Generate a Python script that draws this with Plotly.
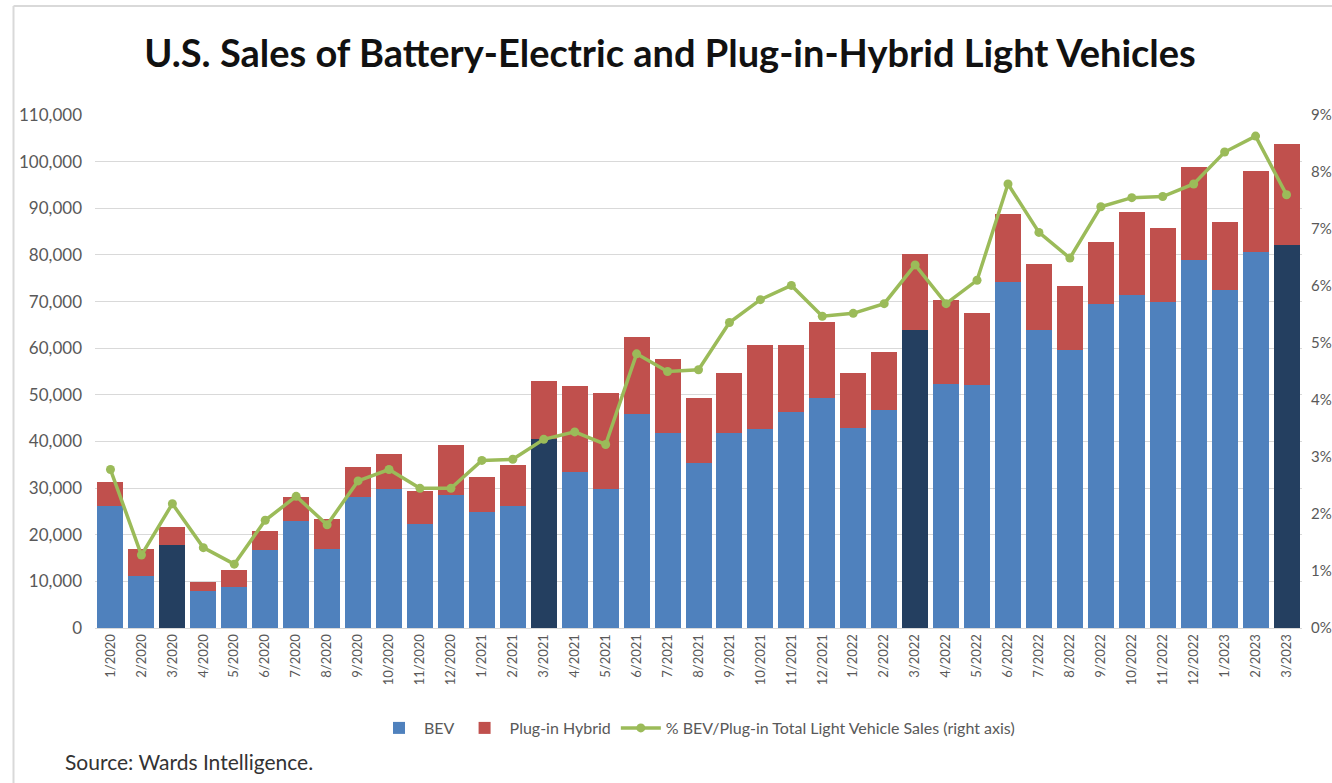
import plotly.graph_objects as go

months = ["1/2020", "2/2020", "3/2020", "4/2020", "5/2020", "6/2020", "7/2020", "8/2020",
          "9/2020", "10/2020", "11/2020", "12/2020", "1/2021", "2/2021", "3/2021", "4/2021",
          "5/2021", "6/2021", "7/2021", "8/2021", "9/2021", "10/2021", "11/2021", "12/2021",
          "1/2022", "2/2022", "3/2022", "4/2022", "5/2022", "6/2022", "7/2022", "8/2022",
          "9/2022", "10/2022", "11/2022", "12/2022", "1/2023", "2/2023", "3/2023"]

bev = [26100, 11200, 17900, 7950, 8700, 16700, 22850, 17000, 28000, 29700, 22250, 28450,
       24850, 26150, 40600, 33450, 29850, 45850, 41800, 35400, 41800, 42600, 46300, 49400,
       42900, 46700, 64000, 52300, 52200, 74100, 63900, 59700, 69500, 71500, 69800, 78900,
       72400, 80700, 82200]

phev = [5200, 5800, 3700, 1950, 3800, 4200, 5250, 6400, 6600, 7700, 7150, 10750,
        7450, 8750, 12300, 18500, 20550, 16500, 15800, 14000, 12800, 18150, 14450, 16250,
        11700, 12450, 16300, 17950, 15300, 14750, 14200, 13700, 13300, 17600, 16000, 20000,
        14700, 17200, 21600]

pct = [2.78, 1.28, 2.18, 1.41, 1.12, 1.89, 2.31, 1.81, 2.58, 2.78, 2.45, 2.45,
       2.94, 2.96, 3.31, 3.44, 3.22, 4.81, 4.50, 4.53, 5.36, 5.76, 6.01, 5.47,
       5.52, 5.69, 6.37, 5.69, 6.10, 7.79, 6.94, 6.49, 7.39, 7.55, 7.57, 7.79,
       8.35, 8.63, 7.60]

highlight_months = ["3/2020", "3/2021", "3/2022", "3/2023"]

BLUE = "#4F81BD"
NAVY = "#243F60"
RED = "#C0504D"
GREEN = "#9BBB59"
TXT = "#595959"

bev_colors = [NAVY if m in highlight_months else BLUE for m in months]
pct_frac = [p / 100 for p in pct]

fig = go.Figure()
fig.add_trace(go.Bar(x=months, y=bev, name="BEV", marker=dict(color=bev_colors, line=dict(width=0))))
fig.add_trace(go.Bar(x=months, y=phev, name="Plug-in Hybrid", marker=dict(color=RED, line=dict(width=0))))
fig.add_trace(go.Scatter(x=months, y=pct_frac, name="% BEV/Plug-in Total Light Vehicle Sales (right axis)",
                         yaxis="y2", mode="lines+markers",
                         line=dict(color=GREEN, width=3.5),
                         marker=dict(color=GREEN, size=9)))

L, R, T, B = 95, 30, 115, 155
W, H = 1332, 783
pw, ph = W - L - R, H - T - B

def px(x):
    return (x - L) / pw

def py(y):
    return (H - B - y) / ph

FONT = "Lato, 'Open Sans', sans-serif"

fig.update_layout(
    width=W, height=H,
    margin=dict(l=L, r=R, t=T, b=B, autoexpand=False),
    paper_bgcolor="white", plot_bgcolor="white",
    barmode="stack", bargap=0.16,
    font=dict(family=FONT, color=TXT, size=14),
    title=dict(text="<b>U.S. Sales of Battery-Electric and Plug-in-Hybrid Light Vehicles</b>",
               x=670 / W, xref="container", xanchor="center",
               y=1 - 54 / H, yref="container", yanchor="middle",
               font=dict(family=FONT, size=38, color="#111111")),
    xaxis=dict(type="category", range=[-0.5, len(months) - 0.5], tickangle=-90, showgrid=False,
               showline=True, automargin=False,
               linecolor="#D9D9D9", linewidth=1, ticks="", tickfont=dict(size=13, color=TXT)),
    yaxis=dict(range=[0, 110000], dtick=10000, tickformat=",d", showgrid=True, automargin=False,
               gridcolor="#D9D9D9", gridwidth=1, zeroline=False, showline=False,
               ticklabelstandoff=12, tickfont=dict(size=17, color=TXT)),
    yaxis2=dict(range=[0, 0.09], dtick=0.01, tickformat=".0%", overlaying="y", side="right",
                showgrid=False, zeroline=False, showline=False, ticklabelstandoff=8, automargin=False,
                tickfont=dict(size=15, color=TXT)),
    legend=dict(orientation="h", x=px(697), xanchor="center", y=py(728), yanchor="middle",
                font=dict(size=16, color=TXT), itemwidth=40, traceorder="normal"),
    showlegend=True,
    annotations=[dict(text="Source: Wards Intelligence.", xref="paper", yref="paper",
                      x=px(63), y=py(762), xanchor="left", yanchor="middle", showarrow=False,
                      font=dict(family=FONT, size=21, color="#333333"))],
    shapes=[
        dict(type="line", xref="paper", yref="paper", x0=px(13.5), x1=px(1332), y0=py(6), y1=py(6),
             line=dict(color="#D9D9D9", width=2)),
        dict(type="line", xref="paper", yref="paper", x0=px(13.5), x1=px(13.5), y0=py(6), y1=py(783),
             line=dict(color="#D9D9D9", width=2)),
    ],
)

fig.write_html("out.html", config={"displayModeBar": False},
               post_script="document.body.style.margin='0';document.body.style.overflow='hidden';")
